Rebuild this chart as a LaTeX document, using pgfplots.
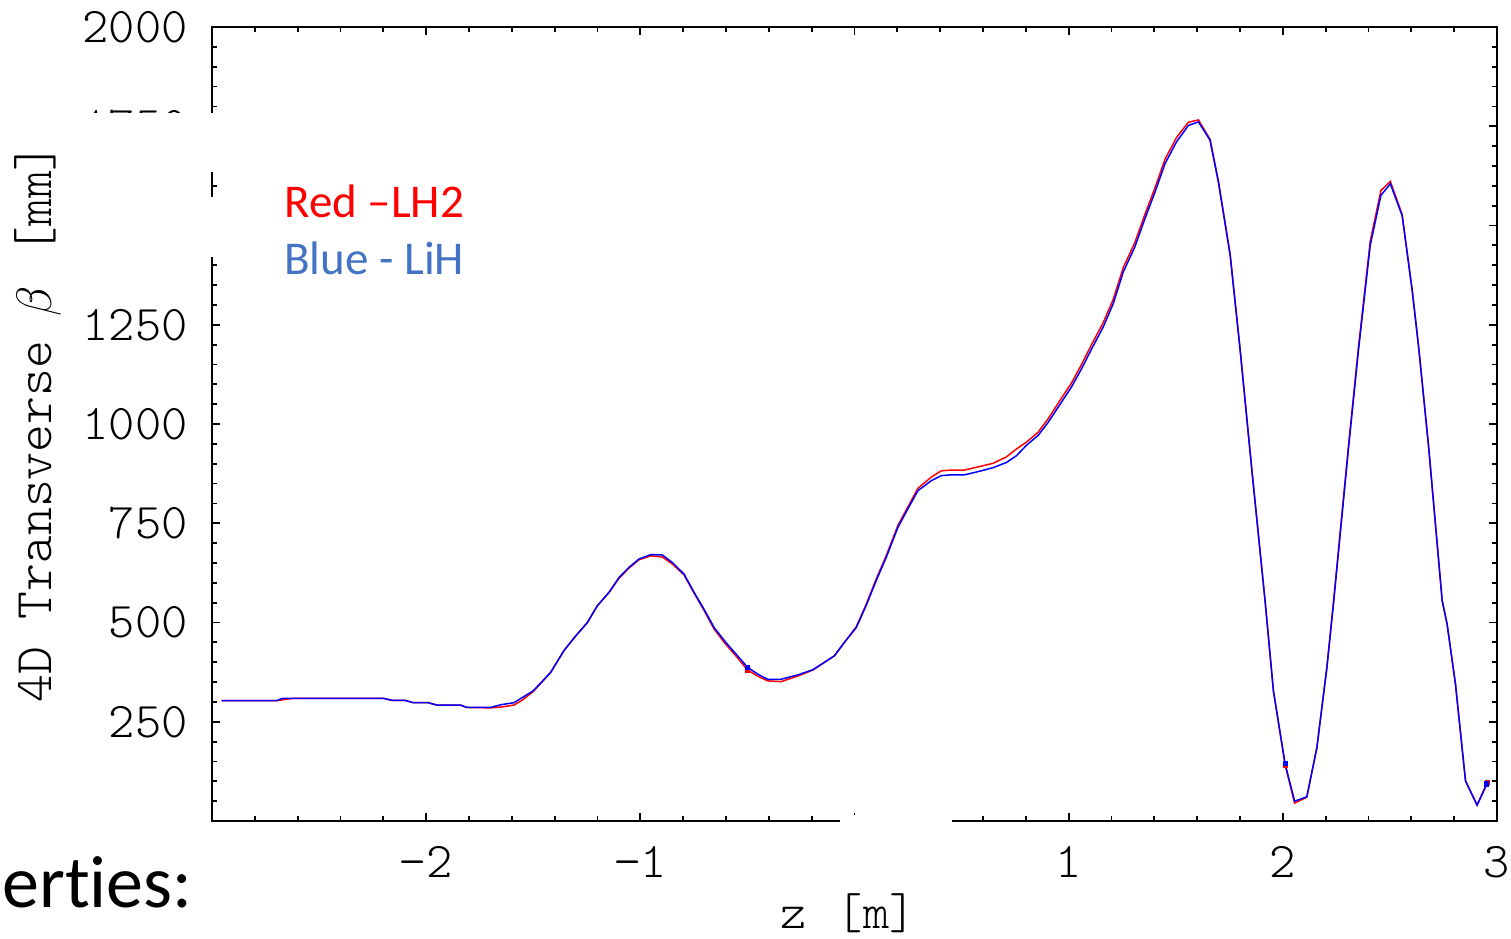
\documentclass[border=0pt]{standalone}
\usepackage{fontspec}
\usepackage{pgfplots}
\pgfplotsset{compat=1.18}
\usetikzlibrary{calc}
\newfontfamily\lmlight{Latin Modern Mono Light}
\newfontfamily\calibri{Carlito}[Ligatures=NoCommon]
\definecolor{legblue}{RGB}{68,114,196}
\newcommand{\tickfont}{\lmlight\fontsize{25}{25}\selectfont}
\begin{document}
\begin{tikzpicture}
\begin{axis}[
  name=ax, at={(0,0)}, anchor=south west,
  scale only axis, width=642.5pt, height=397pt,
  xmin=-3, xmax=3, ymin=0, ymax=2000,
  axis line style={line width=1.2pt},
  tick align=inside, xtick pos=both, ytick pos=both,
  xticklabel pos=lower, yticklabel pos=left,
  major tick length=4pt, minor tick length=2.5pt,
  every tick/.style={black, line width=0.9pt},
  xtick={-3,-2,-1,0,1,2,3},
  xticklabels={,−2,−1,0,1,2,3},
  minor x tick num=4,
  ytick={0,250,500,750,1000,1250,1500,1750,2000},
  yticklabels={,250,500,750,1000,1250,1500,1750,2000},
  minor y tick num=4,
  xticklabel style={font=\tickfont, anchor=center, yshift=-20.5pt, inner sep=0pt},
  yticklabel style={font=\tickfont, anchor=east, xshift=-12pt, inner sep=0pt},
  xlabel={z\hspace{15pt}[m]},
  xlabel style={at={(axis description cs:0.495,-0.116)}, anchor=center, font=\tickfont, inner sep=0pt},
  ylabel={4D Transverse\hspace{12pt}$\beta$\hspace{16pt}[mm]},
  ylabel style={at={(axis description cs:-0.1354,0.1486)}, anchor=west, rotate=0, font=\lmlight\fontsize{26.5}{26.5}\selectfont, inner sep=0pt},
]
% Red - LH2
\addplot[red, line width=0.75pt] coordinates {
(-2.955,303) (-2.70,303) (-2.62,309) (-2.20,309) (-2.16,304) (-2.10,304)
(-2.06,298) (-1.99,298) (-1.95,292) (-1.84,292) (-1.81,286) (-1.70,285)
(-1.65,287) (-1.59,292) (-1.55,305) (-1.50,326) (-1.419,374) (-1.357,429)
(-1.302,466) (-1.247,500) (-1.201,542) (-1.146,576) (-1.100,611) (-1.053,637)
(-1.006,658) (-0.951,668) (-0.897,665) (-0.850,647) (-0.796,620) (-0.749,574)
(-0.702,530) (-0.655,483) (-0.601,445) (-0.546,411) (-0.499,380) (-0.452,365)
(-0.406,353) (-0.343,351) (-0.265,365) (-0.195,380) (-0.148,397) (-0.094,416)
(-0.047,450) (0.008,489) (0.054,545) (0.101,609) (0.148,668) (0.203,745)
(0.249,791) (0.296,838) (0.358,866) (0.405,882) (0.452,884) (0.514,884)
(0.577,892) (0.647,901) (0.709,917) (0.756,937) (0.802,954) (0.857,979)
(0.904,1013) (0.959,1059) (1.013,1103) (1.060,1150) (1.107,1200) (1.161,1255)
(1.208,1314) (1.255,1394) (1.309,1457) (1.356,1528) (1.403,1595) (1.450,1667)
(1.504,1722) (1.559,1760) (1.606,1766) (1.660,1717) (1.699,1612) (1.754,1428)
(1.800,1192) (1.856,882) (1.917,555) (1.956,328) (2.011,140) (2.055,45)
(2.112,60) (2.159,185) (2.206,390) (2.237,555) (2.307,948) (2.354,1198)
(2.408,1460) (2.458,1588) (2.502,1611) (2.557,1528) (2.604,1338) (2.635,1190)
(2.681,941) (2.744,555) (2.767,496) (2.806,345) (2.853,101) (2.907,40) (2.954,97)
};
% Blue - LiH
\addplot[blue, line width=0.75pt] coordinates {
(-2.955,303) (-2.70,303) (-2.67,309) (-2.20,309) (-2.16,304) (-2.10,304)
(-2.06,298) (-1.99,298) (-1.95,292) (-1.84,292) (-1.81,286) (-1.70,286)
(-1.65,293) (-1.59,298) (-1.50,328) (-1.419,374) (-1.357,429) (-1.302,466)
(-1.247,500) (-1.201,542) (-1.146,576) (-1.100,613) (-1.053,639) (-1.006,660)
(-0.951,671) (-0.897,670) (-0.850,651) (-0.796,622) (-0.749,576) (-0.702,533)
(-0.655,487) (-0.601,450) (-0.546,416) (-0.499,387) (-0.452,370) (-0.406,357)
(-0.343,357) (-0.265,368) (-0.195,381) (-0.148,397) (-0.094,416) (-0.047,450)
(0.008,487) (0.054,542) (0.101,605) (0.148,664) (0.203,740) (0.249,786)
(0.296,832) (0.358,857) (0.405,870) (0.452,872) (0.514,872) (0.577,880)
(0.647,890) (0.709,903) (0.756,920) (0.802,946) (0.857,971) (0.904,1004)
(0.959,1049) (1.013,1093) (1.060,1139) (1.107,1189) (1.161,1244) (1.208,1303)
(1.255,1383) (1.309,1446) (1.356,1517) (1.403,1584) (1.450,1656) (1.504,1711)
(1.559,1752) (1.606,1761) (1.660,1715) (1.699,1610) (1.754,1425) (1.800,1189)
(1.856,880) (1.917,555) (1.956,328) (2.011,143) (2.055,50) (2.112,61)
(2.159,185) (2.206,387) (2.237,550) (2.307,941) (2.354,1190) (2.408,1450)
(2.458,1576) (2.502,1605) (2.557,1525) (2.604,1336) (2.635,1189) (2.681,941)
(2.744,555) (2.767,496) (2.806,345) (2.853,101) (2.907,40) (2.954,94)
};
\addplot[only marks, mark=square*, mark size=1.1pt, red] coordinates {(-0.499,380) (2.011,140) (2.954,97)};
\addplot[only marks, mark=square*, mark size=1.1pt, blue] coordinates {(-0.499,387) (2.011,145) (2.950,93)};
\end{axis}
\begin{scope}[shift={(ax.south west)}]
\fill[white] (-75pt,354pt) rectangle (244pt,324.5pt);
\fill[white] (-75pt,312pt) rectangle (244pt,282pt);
\fill[white] (314pt,3pt) rectangle (370pt,-30pt);
\node[anchor=base west, inner sep=0pt, text=red, font=\calibri\fontsize{23.5}{23.5}\selectfont] at (36pt,301.5pt) {Red –LH2};
\node[anchor=base west, inner sep=0pt, text=legblue, font=\calibri\fontsize{23.5}{23.5}\selectfont] at (36pt,273pt) {Blue - LiH};
\node[anchor=base west, inner sep=0pt, font=\calibri\fontsize{37}{37}\selectfont] at (-105pt,-43pt) {erties:};
\end{scope}
\pgfresetboundingbox
\useasboundingbox ($(ax.south west)+(-106pt,-58.5pt)$) rectangle ($(ax.south west)+(649.5pt,410.5pt)$);
\end{tikzpicture}
\end{document}
